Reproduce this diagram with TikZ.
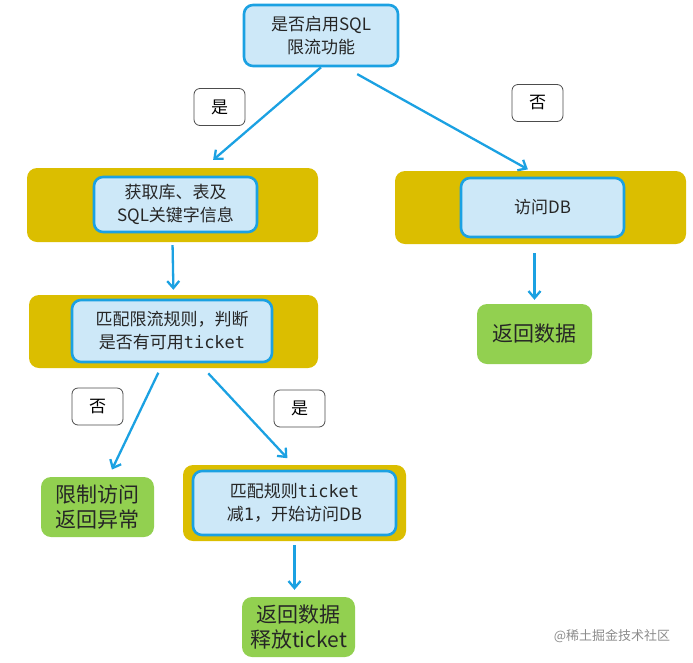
\documentclass[tikz,border=0pt]{standalone}
\usepackage{fontspec}
\setmainfont{Noto Sans CJK SC}
\setmonofont{DejaVu Sans Mono}
\usepackage{tikz}
\usetikzlibrary{positioning,
        shapes,
        arrows.meta,
        calc}
\definecolor{boxblue}{HTML}{CDE8F8}
\definecolor{lineblue}{HTML}{1BA1E2}
\definecolor{gold}{HTML}{DBBE00}
\definecolor{leaf}{HTML}{92D050}

\begin{document}
\begin{tikzpicture}[x=1pt,y=-1pt,
    step box/.style={rectangle,rounded corners=9pt,draw=lineblue,line width=2.6pt,fill=boxblue,align=center,inner sep=0pt,text=black!85,font=\fontsize{17}{23}\selectfont},
    band/.style={rectangle,rounded corners=10pt,fill=gold,inner sep=0pt},
    leaf box/.style={rectangle,rounded corners=10pt,fill=leaf,align=center,inner sep=0pt,text=black!85,font=\fontsize{21}{25}\selectfont},
    answer/.style={rectangle,rounded corners=6pt,draw=black!70,line width=0.8pt,fill=white,inner sep=0pt,minimum width=51pt,minimum height=37pt,font=\fontsize{17}{20}\selectfont},
    flow/.style={-{Straight Barb[length=7pt,width=12pt]},draw=lineblue,line width=2.3pt}]
            \useasboundingbox (0,0) rectangle (693,662);
            \node [step box,minimum width=154pt,minimum height=61pt] (Ask) at (321,35.5) {是否启用SQL\\限流功能};
            \node [answer] (yes1) at (219.5,107) {是};
            \node [answer] (no1) at (537.5,103) {否};

            \node [band,minimum width=291pt,minimum height=74pt] (band1) at (172.5,205) {};
            \node [step box,minimum width=163pt,minimum height=55pt] (Info) at (175.5,204.5) {获取库、表及\\SQL关键字信息};
            \node [band,minimum width=291pt,minimum height=73pt] (band2) at (540.5,207.5) {};
            \node [step box,minimum width=163pt,minimum height=59pt] (DB) at (542.5,207.5) {访问DB};
            \node [leaf box,minimum width=115pt,minimum height=60pt] (ret1) at (534.5,334) {返回数据};

            \node [band,minimum width=289pt,minimum height=73pt] (band3) at (173.5,331.5) {};
            \node [step box,minimum width=200pt,minimum height=62pt] (Match) at (172,331) {匹配限流规则，判断\\是否有可用{\ttfamily ticket}};
            \node [answer] (no2) at (97.5,406.5) {否};
            \node [answer] (yes2) at (299.5,408.5) {是};

            \node [leaf box,minimum width=113pt,minimum height=60pt] (Limit) at (97.5,507) {限制访问\\返回异常};
            \node [band,minimum width=223pt,minimum height=76pt] (band4) at (294.5,503) {};
            \node [step box,minimum width=203pt,minimum height=64pt] (Dec) at (294.5,503) {匹配规则{\ttfamily ticket}\\减{\ttfamily 1}，开始访问DB};
            \node [leaf box,minimum width=113pt,minimum height=60pt] (ret2) at (298.5,627) {返回数据\\释放ticket};

            \node [text=black!45,font=\fontsize{13}{15}\selectfont] (mark) at (612,636) {@稀土掘金技术社区};

            \draw [flow,shorten >=12pt] (Ask.south) -- ($(band1.north)+(31.5,0)$);
            \draw [flow,shorten <=14pt,shorten >=3pt] ($(Ask.south)+(24,0)$) -- ($(band2.north)+(-10,0)$);
            \draw [flow,shorten <=3pt,shorten >=5pt] (band1.south) -- (band3.north);
            \draw [flow,shorten <=9pt,shorten >=4pt] (ret1.north |- band2.south) -- (ret1.north);
            \draw [flow,shorten <=5pt,shorten >=8pt] ($(band3.south)+(-13,0)$) -- ($(Limit.north)+(11,0)$);
            \draw [flow,shorten <=7pt,shorten >=9pt] ($(band3.south)+(30,0)$) -- ($(band4.north)+(-1,0)$);
            \draw [flow,shorten <=4pt,shorten >=7pt] (band4.south) -- (band4.south |- ret2.north);
        \end{tikzpicture}
\end{document}
